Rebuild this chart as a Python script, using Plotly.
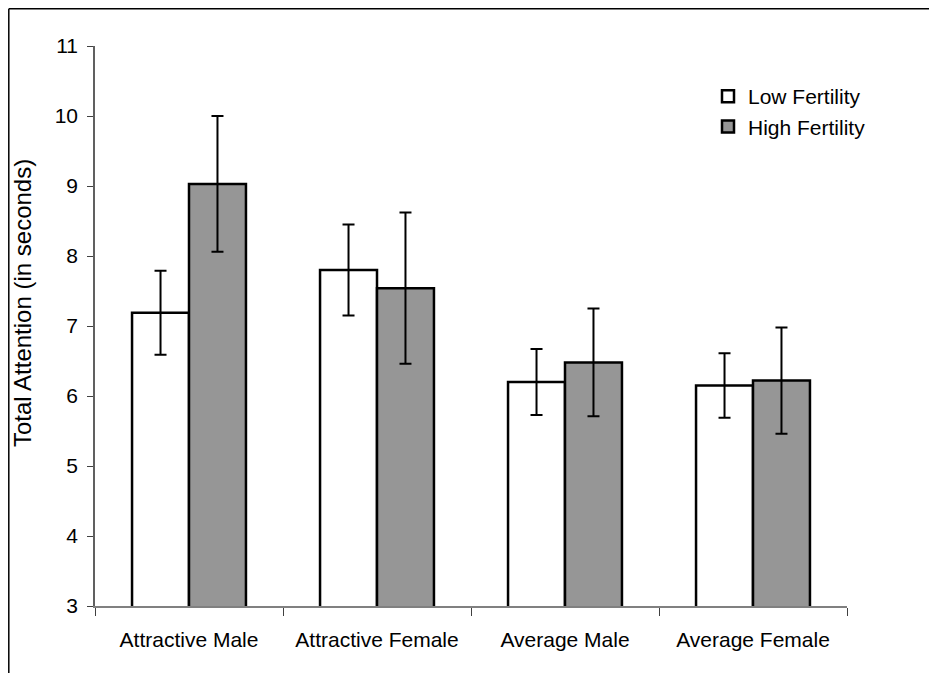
import plotly.graph_objects as go

categories = ["Attractive Male", "Attractive Female", "Average Male", "Average Female"]
low_values = [7.19, 7.80, 6.20, 6.15]
low_errors = [0.60, 0.65, 0.47, 0.46]
high_values = [9.03, 7.54, 6.48, 6.22]
high_errors = [0.97, 1.08, 0.77, 0.76]
y_ticks = [3, 4, 5, 6, 7, 8, 9, 10, 11]
y_title = "Total Attention (in seconds)"

W, H = 937, 673
OFF = 8  # page body margin
# plot area in screenshot pixels
PX0, PX1, PY0, PY1 = 95, 847, 46, 606
L = PX0 - OFF
T = PY0 - OFF
R = W - (PX1 - OFF)
B = H - (PY1 - OFF)
pw, ph = PX1 - PX0, PY1 - PY0

def px_x(p):
    return (p - PX0) / pw

def px_y(p):
    return (PY1 - p) / ph

font = "Liberation Sans, Arial, sans-serif"

fig = go.Figure()
fig.add_trace(go.Bar(
    name="Low Fertility", x=categories, y=low_values,
    marker=dict(color="white", line=dict(color="black", width=2.5)),
    error_y=dict(type="data", array=low_errors, color="black", thickness=2, width=6),
    legendgroup="a",
))
fig.add_trace(go.Bar(
    name="High Fertility", x=categories, y=high_values,
    marker=dict(color="#969696", line=dict(color="black", width=2.5)),
    error_y=dict(type="data", array=high_errors, color="black", thickness=2, width=6),
    legendgroup="b",
))

fig.update_layout(
    width=W, height=H,
    margin=dict(l=L, r=R, t=T, b=B),
    paper_bgcolor="white", plot_bgcolor="white",
    barmode="group", bargap=0.394, bargroupgap=0,
    font=dict(family=font, size=21, color="black"),
    showlegend=True,
    legend=dict(
        x=px_x(708), y=px_y(76), xanchor="left", yanchor="top",
        font=dict(size=21), bgcolor="rgba(0,0,0,0)",
        tracegroupgap=0, itemwidth=30,
    ),
    xaxis=dict(
        type="category", tickson="boundaries",
        showline=True, linecolor="#808080", linewidth=1.5,
        ticks="outside", ticklen=8, tickcolor="#404040", tickwidth=1,
        showgrid=False, zeroline=False,
        tickfont=dict(size=21), ticklabelstandoff=14,
    ),
    yaxis=dict(
        range=[3, 11], tickvals=y_ticks,
        showline=True, linecolor="#606060", linewidth=1.5,
        ticks="outside", ticklen=6, tickcolor="#404040", tickwidth=1,
        showgrid=False, zeroline=False,
        tickfont=dict(size=21), ticklabelstandoff=5,
    ),
    annotations=[
        dict(text=y_title, xref="paper", yref="paper",
             x=px_x(22), y=px_y(303), xanchor="center", yanchor="middle",
             textangle=-90, showarrow=False, font=dict(size=24)),
    ],
    shapes=[
        dict(type="line", xref="paper", yref="paper",
             x0=px_x(8.8), x1=px_x(945), y0=px_y(8.8), y1=px_y(8.8),
             line=dict(color="black", width=1.5)),
        dict(type="line", xref="paper", yref="paper",
             x0=px_x(8.8), x1=px_x(8.8), y0=px_y(8.8), y1=px_y(690),
             line=dict(color="black", width=1.5)),
    ],
)

fig.write_html("out.html")
